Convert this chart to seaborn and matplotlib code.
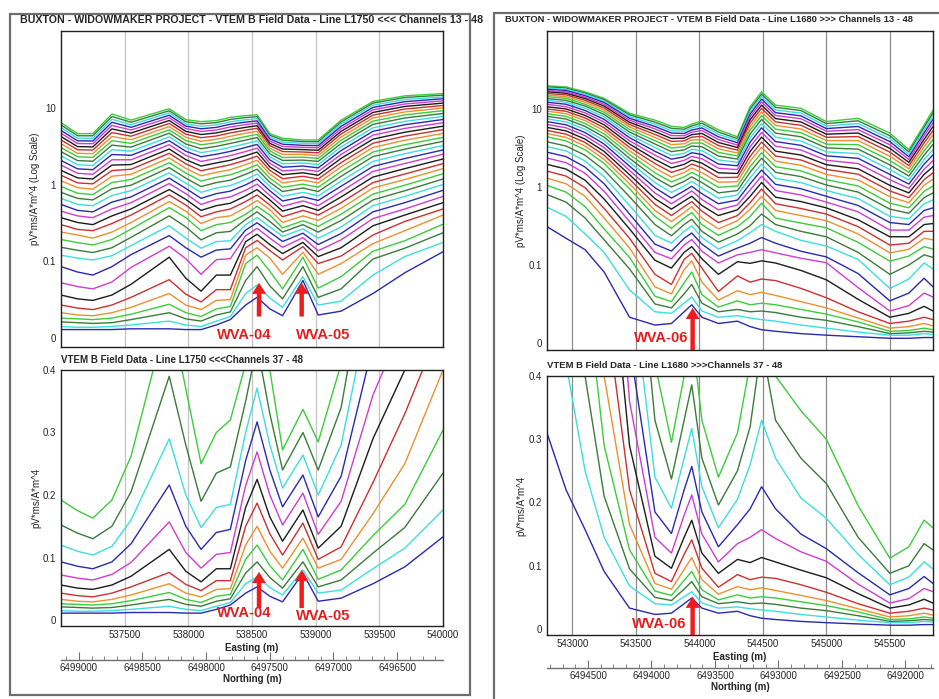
import numpy as np
import pandas as pd
import matplotlib
matplotlib.use("Agg")
import matplotlib.pyplot as plt
import seaborn as sns
from matplotlib.patches import Rectangle
from matplotlib.ticker import MultipleLocator, FixedLocator, FuncFormatter, NullFormatter

# VTEM B-field decays, channels 13 - 48 (pV*ms/A*m^4)
CHANNELS = list(range(13, 49))

# ---------------- Line L1750 (<<<) ----------------
L1750_EASTING = [537000, 537130, 537250, 537400, 537550, 537850, 537980, 538100, 538220, 538330,
                 538450, 538540, 538640, 538740, 538900, 539020, 539200, 539450, 539700, 540000]

l1750_537000 = [6.4, 5.97, 5.52, 5.07, 4.65, 4.22, 3.81, 3.40, 3.03, 2.68, 2.36, 2.06, 1.79, 1.53, 1.32, 1.12, 0.94, 0.79, 0.66, 0.55, 0.45, 0.37, 0.30, 0.24, 0.192, 0.152, 0.120, 0.093, 0.072, 0.056, 0.043, 0.033, 0.026, 0.021, 0.015, 0.011]
l1750_537130 = [4.6, 4.32, 4.01, 3.71, 3.42, 3.12, 2.84, 2.55, 2.30, 2.05, 1.81, 1.60, 1.40, 1.22, 1.05, 0.91, 0.77, 0.66, 0.55, 0.46, 0.39, 0.32, 0.26, 0.22, 0.175, 0.139, 0.110, 0.086, 0.067, 0.051, 0.039, 0.030, 0.025, 0.020, 0.014, 0.011]
l1750_537250 = [4.6, 4.31, 4.00, 3.69, 3.40, 3.09, 2.81, 2.52, 2.26, 2.01, 1.77, 1.56, 1.36, 1.18, 1.02, 0.87, 0.74, 0.63, 0.53, 0.44, 0.37, 0.30, 0.25, 0.20, 0.163, 0.130, 0.104, 0.082, 0.064, 0.049, 0.037, 0.029, 0.024, 0.019, 0.014, 0.011]
l1750_537400 = [8.3, 7.69, 7.08, 6.47, 5.89, 5.30, 4.75, 4.22, 3.72, 3.26, 2.84, 2.46, 2.10, 1.79, 1.52, 1.28, 1.06, 0.88, 0.72, 0.59, 0.48, 0.39, 0.31, 0.24, 0.192, 0.150, 0.118, 0.093, 0.073, 0.056, 0.043, 0.033, 0.026, 0.020, 0.015, 0.011]
l1750_537550 = [6.9, 6.47, 6.01, 5.56, 5.13, 4.68, 4.26, 3.83, 3.44, 3.07, 2.72, 2.40, 2.10, 1.82, 1.58, 1.36, 1.16, 0.98, 0.83, 0.69, 0.58, 0.48, 0.40, 0.32, 0.262, 0.205, 0.160, 0.122, 0.092, 0.070, 0.053, 0.040, 0.031, 0.024, 0.017, 0.012]
l1750_537850 = [9.7, 9.14, 8.57, 7.98, 7.41, 6.82, 6.25, 5.69, 5.16, 4.66, 4.17, 3.72, 3.30, 2.90, 2.55, 2.22, 1.92, 1.66, 1.42, 1.21, 1.03, 0.86, 0.73, 0.60, 0.50, 0.39, 0.29, 0.216, 0.157, 0.113, 0.076, 0.058, 0.044, 0.033, 0.022, 0.012]
l1750_537980 = [7.0, 6.59, 6.18, 5.77, 5.36, 4.93, 4.53, 4.12, 3.74, 3.37, 3.03, 2.71, 2.40, 2.11, 1.86, 1.62, 1.41, 1.21, 1.04, 0.89, 0.76, 0.64, 0.54, 0.45, 0.37, 0.28, 0.20, 0.15, 0.108, 0.078, 0.057, 0.043, 0.033, 0.025, 0.017, 0.011]
l1750_538100 = [6.6, 6.19, 5.75, 5.32, 4.91, 4.48, 4.07, 3.66, 3.29, 2.93, 2.60, 2.30, 2.00, 1.74, 1.51, 1.30, 1.11, 0.94, 0.79, 0.66, 0.55, 0.46, 0.38, 0.31, 0.25, 0.19, 0.148, 0.113, 0.083, 0.061, 0.047, 0.037, 0.028, 0.022, 0.015, 0.011]
l1750_538220 = [6.8, 6.40, 5.97, 5.55, 5.13, 4.70, 4.29, 3.88, 3.50, 3.14, 2.80, 2.48, 2.18, 1.91, 1.66, 1.44, 1.24, 1.06, 0.90, 0.76, 0.64, 0.53, 0.44, 0.37, 0.30, 0.235, 0.18, 0.14, 0.105, 0.082, 0.063, 0.049, 0.038, 0.030, 0.022, 0.017]
l1750_538330 = [7.5, 7.05, 6.56, 6.10, 5.62, 5.15, 4.70, 4.25, 3.83, 3.43, 3.05, 2.70, 2.38, 2.07, 1.81, 1.56, 1.34, 1.14, 0.97, 0.82, 0.69, 0.57, 0.48, 0.39, 0.32, 0.245, 0.185, 0.145, 0.108, 0.082, 0.063, 0.050, 0.041, 0.034, 0.028, 0.024]
l1750_538450 = [7.9, 7.45, 6.98, 6.50, 6.04, 5.56, 5.11, 4.65, 4.21, 3.79, 3.40, 3.04, 2.69, 2.37, 2.08, 1.82, 1.57, 1.36, 1.16, 0.99, 0.84, 0.71, 0.60, 0.50, 0.41, 0.35, 0.30, 0.255, 0.215, 0.18, 0.15, 0.12, 0.097, 0.075, 0.058, 0.043]
l1750_538540 = [8.1, 7.66, 7.21, 6.75, 6.31, 5.83, 5.40, 4.93, 4.51, 4.09, 3.70, 3.33, 2.98, 2.65, 2.34, 2.07, 1.81, 1.58, 1.37, 1.18, 1.01, 0.86, 0.73, 0.62, 0.52, 0.44, 0.371, 0.317, 0.269, 0.225, 0.187, 0.150, 0.120, 0.093, 0.069, 0.053]
l1750_538640 = [4.6, 4.39, 4.15, 3.92, 3.68, 3.44, 3.21, 2.96, 2.74, 2.51, 2.30, 2.09, 1.89, 1.70, 1.53, 1.37, 1.21, 1.07, 0.94, 0.83, 0.72, 0.63, 0.54, 0.47, 0.40, 0.33, 0.28, 0.24, 0.20, 0.165, 0.138, 0.110, 0.087, 0.068, 0.052, 0.038]
l1750_538740 = [4.0, 3.79, 3.57, 3.35, 3.13, 2.90, 2.69, 2.47, 2.25, 2.06, 1.86, 1.68, 1.50, 1.34, 1.19, 1.05, 0.92, 0.81, 0.70, 0.61, 0.52, 0.45, 0.38, 0.32, 0.272, 0.24, 0.211, 0.181, 0.152, 0.126, 0.104, 0.083, 0.064, 0.051, 0.040, 0.029]
l1750_538900 = [3.8, 3.62, 3.44, 3.24, 3.05, 2.85, 2.65, 2.46, 2.27, 2.08, 1.91, 1.74, 1.57, 1.42, 1.28, 1.14, 1.01, 0.90, 0.79, 0.69, 0.61, 0.53, 0.46, 0.39, 0.337, 0.30, 0.264, 0.232, 0.203, 0.176, 0.155, 0.131, 0.113, 0.093, 0.080, 0.075]
l1750_539020 = [3.8, 3.61, 3.41, 3.21, 3.01, 2.79, 2.59, 2.38, 2.19, 2.00, 1.82, 1.65, 1.48, 1.32, 1.18, 1.05, 0.92, 0.81, 0.71, 0.62, 0.53, 0.46, 0.40, 0.34, 0.285, 0.24, 0.20, 0.165, 0.137, 0.115, 0.097, 0.083, 0.065, 0.053, 0.043, 0.030]
l1750_539200 = [6.9, 6.52, 6.14, 5.73, 5.33, 4.93, 4.55, 4.15, 3.78, 3.43, 3.09, 2.77, 2.47, 2.19, 1.93, 1.70, 1.48, 1.28, 1.11, 0.95, 0.81, 0.69, 0.58, 0.49, 0.41, 0.34, 0.28, 0.23, 0.19, 0.15, 0.117, 0.097, 0.080, 0.064, 0.048, 0.035]
l1750_539450 = [12.1, 11.5, 10.8, 10.1, 9.40, 8.69, 8.02, 7.35, 6.70, 6.07, 5.48, 4.93, 4.40, 3.90, 3.45, 3.04, 2.65, 2.31, 2.00, 1.72, 1.48, 1.25, 1.06, 0.90, 0.75, 0.63, 0.53, 0.44, 0.36, 0.29, 0.22, 0.17, 0.135, 0.107, 0.082, 0.058]
l1750_539700 = [14.3, 13.6, 12.8, 12.0, 11.2, 10.4, 9.62, 8.81, 8.07, 7.35, 6.65, 6.01, 5.38, 4.80, 4.27, 3.77, 3.30, 2.89, 2.52, 2.18, 1.88, 1.61, 1.37, 1.16, 0.98, 0.83, 0.70, 0.58, 0.48, 0.40, 0.33, 0.25, 0.185, 0.148, 0.115, 0.085]
l1750_540000 = [15.3, 14.6, 13.8, 13.1, 12.3, 11.5, 10.7, 9.93, 9.16, 8.43, 7.71, 7.03, 6.38, 5.75, 5.18, 4.63, 4.11, 3.65, 3.22, 2.82, 2.48, 2.15, 1.87, 1.61, 1.38, 1.18, 1.00, 0.84, 0.70, 0.58, 0.48, 0.40, 0.304, 0.235, 0.176, 0.133]

L1750_DECAYS = [l1750_537000, l1750_537130, l1750_537250, l1750_537400, l1750_537550, l1750_537850,
                l1750_537980, l1750_538100, l1750_538220, l1750_538330, l1750_538450, l1750_538540,
                l1750_538640, l1750_538740, l1750_538900, l1750_539020, l1750_539200, l1750_539450,
                l1750_539700, l1750_540000]

# ---------------- Line L1680 (>>>) ----------------
L1680_EASTING = [542800, 542950, 543100, 543250, 543450, 543650, 543780, 543880, 543940, 544020, 544150,
                 544300, 544400, 544490, 544600, 544800, 545000, 545250, 545500, 545650, 545770, 545840]

l1680_542800 = [19.8, 19.2, 18.6, 17.9, 17.3, 16.6, 15.8, 15.1, 14.4, 13.6, 12.9, 12.2, 11.5, 10.7, 10.0, 9.38, 8.71, 8.07, 7.46, 6.89, 6.34, 5.81, 5.31, 4.84, 4.4, 3.8, 3.3, 2.8, 2.35, 1.95, 1.6, 1.3, 1.05, 0.80, 0.55, 0.31]
l1680_542950 = [19.2, 18.6, 17.9, 17.3, 16.6, 15.9, 15.2, 14.4, 13.7, 12.9, 12.2, 11.5, 10.7, 10.0, 9.35, 8.69, 8.04, 7.43, 6.84, 6.27, 5.74, 5.24, 4.76, 4.32, 3.9, 3.35, 2.9, 2.45, 2.05, 1.7, 1.38, 1.1, 0.86, 0.64, 0.42, 0.22]
l1680_543100 = [16.6, 16.0, 15.5, 14.8, 14.2, 13.6, 12.9, 12.2, 11.5, 10.9, 10.2, 9.55, 8.91, 8.28, 7.67, 7.10, 6.52, 5.98, 5.48, 4.99, 4.55, 4.11, 3.72, 3.35, 3.0, 2.55, 2.15, 1.8, 1.5, 1.22, 0.98, 0.76, 0.56, 0.40, 0.25, 0.157]
l1680_543250 = [13.7, 13.2, 12.6, 12.1, 11.5, 10.9, 10.3, 9.70, 9.10, 8.51, 7.93, 7.36, 6.81, 6.27, 5.75, 5.27, 4.80, 4.36, 3.94, 3.55, 3.19, 2.86, 2.55, 2.26, 2.0, 1.65, 1.35, 1.1, 0.88, 0.70, 0.53, 0.40, 0.29, 0.21, 0.145, 0.091]
l1680_543450 = [8.8, 8.41, 8.00, 7.59, 7.18, 6.75, 6.32, 5.89, 5.47, 5.06, 4.67, 4.29, 3.91, 3.56, 3.22, 2.91, 2.61, 2.33, 2.08, 1.85, 1.63, 1.44, 1.26, 1.10, 0.95, 0.75, 0.58, 0.45, 0.36, 0.29, 0.22, 0.165, 0.125, 0.095, 0.068, 0.033]
l1680_543650 = [7.2, 6.79, 6.38, 5.97, 5.56, 5.13, 4.72, 4.32, 3.93, 3.56, 3.20, 2.87, 2.56, 2.26, 2.00, 1.75, 1.52, 1.32, 1.14, 0.98, 0.84, 0.71, 0.60, 0.50, 0.42, 0.33, 0.24, 0.185, 0.145, 0.115, 0.088, 0.072, 0.060, 0.050, 0.040, 0.023]
l1680_543780 = [6.0, 5.65, 5.28, 4.92, 4.56, 4.19, 3.84, 3.49, 3.16, 2.84, 2.54, 2.27, 2.00, 1.76, 1.54, 1.34, 1.16, 1.00, 0.85, 0.72, 0.61, 0.52, 0.43, 0.36, 0.295, 0.237, 0.191, 0.151, 0.120, 0.096, 0.075, 0.063, 0.053, 0.045, 0.038, 0.025]
l1680_543880 = [5.8, 5.50, 5.18, 4.85, 4.54, 4.22, 3.90, 3.58, 3.28, 2.99, 2.70, 2.44, 2.19, 1.95, 1.73, 1.53, 1.35, 1.18, 1.03, 0.89, 0.77, 0.66, 0.56, 0.47, 0.40, 0.33, 0.27, 0.22, 0.18, 0.145, 0.118, 0.094, 0.077, 0.063, 0.051, 0.040]
l1680_543940 = [6.4, 6.07, 5.73, 5.38, 5.05, 4.69, 4.35, 4.00, 3.66, 3.35, 3.04, 2.75, 2.47, 2.21, 1.97, 1.75, 1.54, 1.35, 1.18, 1.02, 0.89, 0.76, 0.65, 0.56, 0.47, 0.386, 0.317, 0.257, 0.212, 0.172, 0.141, 0.113, 0.091, 0.075, 0.059, 0.049]
l1680_544020 = [7.0, 6.58, 6.15, 5.71, 5.30, 4.86, 4.46, 4.04, 3.66, 3.28, 2.93, 2.61, 2.30, 2.02, 1.77, 1.53, 1.32, 1.14, 0.97, 0.82, 0.69, 0.58, 0.49, 0.40, 0.33, 0.27, 0.225, 0.185, 0.150, 0.120, 0.096, 0.078, 0.062, 0.051, 0.041, 0.033]
l1680_544150 = [5.4, 5.07, 4.73, 4.40, 4.06, 3.72, 3.40, 3.08, 2.78, 2.49, 2.22, 1.97, 1.74, 1.52, 1.32, 1.15, 0.99, 0.84, 0.72, 0.61, 0.51, 0.43, 0.35, 0.29, 0.24, 0.196, 0.160, 0.130, 0.106, 0.088, 0.066, 0.055, 0.046, 0.040, 0.033, 0.025]
l1680_544300 = [4.4, 4.17, 3.94, 3.69, 3.45, 3.21, 2.97, 2.73, 2.50, 2.28, 2.07, 1.87, 1.67, 1.49, 1.33, 1.17, 1.03, 0.90, 0.79, 0.68, 0.59, 0.51, 0.43, 0.37, 0.31, 0.25, 0.205, 0.165, 0.135, 0.110, 0.086, 0.067, 0.054, 0.043, 0.035, 0.028]
l1680_544400 = [10.7, 10.0, 9.33, 8.63, 7.96, 7.28, 6.62, 5.97, 5.37, 4.79, 4.25, 3.76, 3.29, 2.86, 2.48, 2.14, 1.82, 1.55, 1.31, 1.10, 0.92, 0.76, 0.63, 0.52, 0.42, 0.32, 0.26, 0.19, 0.145, 0.105, 0.078, 0.062, 0.049, 0.040, 0.032, 0.021]
l1680_544490 = [16.6, 15.5, 14.5, 13.4, 12.3, 11.2, 10.2, 9.18, 8.24, 7.35, 6.50, 5.74, 5.01, 4.36, 3.77, 3.24, 2.75, 2.34, 1.97, 1.65, 1.38, 1.14, 0.94, 0.76, 0.62, 0.45, 0.33, 0.225, 0.157, 0.113, 0.082, 0.065, 0.051, 0.041, 0.030, 0.017]
l1680_544600 = [11.2, 10.5, 9.73, 8.97, 8.26, 7.53, 6.84, 6.15, 5.51, 4.90, 4.34, 3.82, 3.33, 2.88, 2.49, 2.14, 1.82, 1.54, 1.29, 1.08, 0.90, 0.74, 0.61, 0.50, 0.40, 0.33, 0.27, 0.19, 0.143, 0.106, 0.080, 0.061, 0.049, 0.039, 0.028, 0.015]
l1680_544800 = [10.2, 9.55, 8.85, 8.17, 7.50, 6.82, 6.18, 5.55, 4.97, 4.41, 3.89, 3.42, 2.98, 2.57, 2.22, 1.90, 1.61, 1.36, 1.14, 0.95, 0.79, 0.65, 0.53, 0.43, 0.345, 0.27, 0.207, 0.15, 0.122, 0.093, 0.070, 0.053, 0.043, 0.033, 0.023, 0.012]
l1680_545000 = [6.9, 6.49, 6.05, 5.61, 5.19, 4.75, 4.34, 3.93, 3.54, 3.17, 2.82, 2.51, 2.20, 1.93, 1.68, 1.45, 1.24, 1.06, 0.90, 0.76, 0.64, 0.54, 0.45, 0.37, 0.30, 0.23, 0.175, 0.127, 0.107, 0.081, 0.058, 0.045, 0.037, 0.029, 0.019, 0.010]
l1680_545250 = [7.6, 7.06, 6.52, 5.97, 5.44, 4.92, 4.43, 3.94, 3.48, 3.06, 2.68, 2.33, 2.00, 1.71, 1.46, 1.23, 1.03, 0.86, 0.71, 0.58, 0.48, 0.38, 0.31, 0.25, 0.195, 0.145, 0.118, 0.089, 0.071, 0.056, 0.040, 0.032, 0.027, 0.021, 0.014, 0.008]
l1680_545500 = [4.9, 4.54, 4.18, 3.82, 3.48, 3.13, 2.80, 2.48, 2.19, 1.92, 1.67, 1.45, 1.24, 1.05, 0.89, 0.75, 0.62, 0.52, 0.42, 0.35, 0.28, 0.23, 0.18, 0.143, 0.112, 0.088, 0.070, 0.054, 0.041, 0.033, 0.025, 0.019, 0.015, 0.012, 0.010, 0.006]
l1680_545650 = [3.0, 2.82, 2.63, 2.44, 2.25, 2.07, 1.88, 1.71, 1.54, 1.38, 1.23, 1.09, 0.96, 0.84, 0.73, 0.63, 0.54, 0.46, 0.39, 0.33, 0.28, 0.23, 0.19, 0.159, 0.13, 0.10, 0.082, 0.064, 0.048, 0.038, 0.028, 0.021, 0.016, 0.013, 0.010, 0.006]
l1680_545770 = [6.25, 5.82, 5.37, 4.93, 4.51, 4.07, 3.67, 3.27, 2.91, 2.56, 2.24, 1.96, 1.69, 1.45, 1.24, 1.05, 0.88, 0.73, 0.61, 0.50, 0.41, 0.33, 0.27, 0.22, 0.172, 0.135, 0.106, 0.083, 0.064, 0.047, 0.033, 0.025, 0.019, 0.015, 0.012, 0.007]
l1680_545840 = [9.7, 8.93, 8.17, 7.40, 6.68, 5.96, 5.28, 4.63, 4.05, 3.51, 3.01, 2.58, 2.18, 1.82, 1.52, 1.26, 1.03, 0.84, 0.68, 0.54, 0.43, 0.34, 0.27, 0.21, 0.16, 0.125, 0.095, 0.072, 0.059, 0.041, 0.030, 0.022, 0.017, 0.014, 0.011, 0.007]

L1680_DECAYS = [l1680_542800, l1680_542950, l1680_543100, l1680_543250, l1680_543450, l1680_543650,
                l1680_543780, l1680_543880, l1680_543940, l1680_544020, l1680_544150, l1680_544300,
                l1680_544400, l1680_544490, l1680_544600, l1680_544800, l1680_545000, l1680_545250,
                l1680_545500, l1680_545650, l1680_545770, l1680_545840]

# northing runs the other way along each line (northing = offset - easting)
L1750_NORTH_OFFSET = 7036140
L1680_NORTH_OFFSET = 7037623

L1750_TICKS = [537500, 538000, 538500, 539000, 539500, 540000]
L1680_TICKS = [543000, 543500, 544000, 544500, 545000, 545500]
L1750_NORTH_TICKS = [6499000, 6498500, 6498000, 6497500, 6497000, 6496500]
L1680_NORTH_TICKS = [6494500, 6494000, 6493500, 6493000, 6492500, 6492000]

# colour cycle of the profiles, starting at channel 37
CH_COLOURS = ['#3ccc3c', '#3a7c3a', '#3cdede', '#2a2ab0', '#d03cd0', '#1c1c1c', '#cc3030', '#ec9030']
palette = {ch: CH_COLOURS[(ch - 37) % 8] for ch in CHANNELS}


def to_long(eastings, decays):
    rows = []
    for e, dec in zip(eastings, decays):
        for ch, v in zip(CHANNELS, dec):
            rows.append((e, ch, v))
    return pd.DataFrame(rows, columns=['easting', 'channel', 'value'])


df1750 = to_long(L1750_EASTING, L1750_DECAYS)
df1680 = to_long(L1680_EASTING, L1680_DECAYS)

sns.set_style('white')
plt.rcParams['font.family'] = ['Liberation Sans', 'DejaVu Sans']
plt.rcParams['axes.linewidth'] = 1.0

W, H = 939, 699
fig = plt.figure(figsize=(W / 100, H / 100), dpi=100)


def box(l, t, r, b):
    return [l / W, 1 - b / H, (r - l) / W, (b - t) / H]


# frames round the two sheets
fig.patches.append(Rectangle((10 / W, 1 - 695 / H), 460 / W, 681 / H, transform=fig.transFigure,
                             fill=False, edgecolor='#6e6e6e', lw=1.6, zorder=1))
fig.text(20 / W, 1 - 20 / H, 'BUXTON - WIDOWMAKER PROJECT - VTEM B Field Data - Line L1750 <<< Channels 13 - 48',
         fontsize=7.7, fontweight='bold', va='center', ha='left', zorder=2)
fig.patches.append(Rectangle((494 / W, -0.02), 0.5, 1 - 13 / H + 0.02, transform=fig.transFigure,
                             facecolor='white', edgecolor='#6e6e6e', lw=1.6, zorder=3))
fig.text(505 / W, 1 - 20 / H, 'BUXTON - WIDOWMAKER PROJECT - VTEM B Field Data - Line L1680 >>> Channels 13 - 48',
         fontsize=6.75, fontweight='bold', va='center', ha='left', zorder=4)

ax_tl = fig.add_axes(box(61, 31, 443, 347))
ax_bl = fig.add_axes(box(61, 370, 443, 626))
ax_tr = fig.add_axes(box(547, 31, 933, 350), zorder=5)
ax_br = fig.add_axes(box(547, 376, 933, 635), zorder=5)

fig.text(61 / W, 1 - 360 / H, 'VTEM B Field Data - Line L1750 <<<Channels 37 - 48',
         fontsize=7, fontweight='bold', va='center', ha='left')
fig.text(547 / W, 1 - 365 / H, 'VTEM B Field Data - Line L1680 >>>Channels 37 - 48',
         fontsize=6.8, fontweight='bold', va='center', ha='left', zorder=6)


def draw_lines(ax, df, channels):
    sub = df[df['channel'].isin(channels)]
    sns.lineplot(data=sub, x='easting', y='value', hue='channel', palette=palette,
                 estimator=None, errorbar=None, legend=False, linewidth=1.0, ax=ax)
    for ln in ax.lines:
        ln.set_solid_joinstyle('round')
    ax.set_xlabel('')
    ax.set_ylabel('')


def style_x(ax, xlim, ticks, grid_colour, labels):
    ax.set_xlim(*xlim)
    ax.xaxis.set_major_locator(FixedLocator(ticks))
    ax.xaxis.set_minor_locator(MultipleLocator(100))
    ax.grid(True, axis='x', which='major', color=grid_colour, lw=0.9)
    ax.set_axisbelow(True)
    ax.tick_params(axis='x', which='major', direction='in', length=0, labelsize=7, pad=3,
                   labelbottom=labels)
    ax.tick_params(axis='x', which='minor', direction='in', length=3, width=0.6)
    ax.xaxis.set_major_formatter(FuncFormatter(lambda v, _: f'{v:.0f}'))
    for s in ax.spines.values():
        s.set_color('#202020')


def style_log(ax, ylim, pad):
    ax.set_yscale('symlog', linthresh=0.1, linscale=0.9)
    ax.set_ylim(*ylim)
    ax.yaxis.set_major_locator(FixedLocator([0, 0.1, 1, 10]))
    ax.yaxis.set_major_formatter(FuncFormatter(lambda v, _: {0: '0', 0.1: '0.1', 1: '1', 10: '10'}.get(v, '')))
    ax.yaxis.set_minor_locator(FixedLocator([0.02, 0.04, 0.06, 0.08, 0.2, 0.4, 0.6, 0.8,
                                             2, 4, 6, 8, 20, 40, 60, 80]))
    ax.yaxis.set_minor_formatter(NullFormatter())
    ax.tick_params(axis='y', which='major', direction='inout', length=6, width=0.8, labelsize=7, pad=0.5)
    ax.tick_params(axis='y', which='minor', direction='in', length=3, width=0.6)
    ax.set_ylabel('pV*ms/A*m^4 (Log Scale)', fontsize=7, labelpad=pad)


def style_lin(ax, ylim, pad):
    ax.set_ylim(*ylim)
    ax.yaxis.set_major_locator(MultipleLocator(0.1))
    ax.yaxis.set_minor_locator(MultipleLocator(0.025))
    ax.yaxis.set_major_formatter(FuncFormatter(lambda v, _: '0' if abs(v) < 1e-9 else f'{v:.1f}'))
    ax.tick_params(axis='y', which='major', direction='inout', length=6, width=0.8, labelsize=7, pad=0.5)
    ax.tick_params(axis='y', which='minor', direction='in', length=3, width=0.6)
    ax.set_ylabel('pV*ms/A*m^4', fontsize=7, labelpad=pad)


def northing_axis(ax, offset, loc, ticks):
    sec = ax.secondary_xaxis(loc, functions=(lambda e: offset - e, lambda n: offset - n))
    sec.xaxis.set_major_locator(FixedLocator(ticks))
    sec.xaxis.set_minor_locator(MultipleLocator(100))
    sec.xaxis.set_major_formatter(FuncFormatter(lambda v, _: f'{v:.0f}'))
    sec.tick_params(which='major', direction='in', length=6, width=0.8, color='#707070',
                    labelsize=7, pad=2)
    sec.tick_params(which='minor', direction='in', length=3, width=0.6, color='#707070')
    sec.spines['bottom'].set_color('#707070')
    sec.set_xlabel('Northing (m)', fontsize=7, fontweight='bold', labelpad=1)


def arrow(ax, x, tip, base, label, lx, ly):
    ax.annotate('', xy=(x, tip), xytext=(x, base),
                arrowprops=dict(facecolor='#ee1c1c', edgecolor='none', width=3.2,
                                headwidth=10, headlength=8, shrink=0), annotation_clip=False)
    ax.text(lx, ly, label, color='#e31e1e', fontsize=10.5, fontweight='bold',
            ha='center', va='center', clip_on=False)


# --- L1750
draw_lines(ax_tl, df1750, CHANNELS)
style_x(ax_tl, (537000, 540000), L1750_TICKS, '#c4c4c4', False)
style_log(ax_tl, (-0.0117, 100), 2)
arrow(ax_tl, 538555, 0.072, 0.028, 'WVA-04', 538437, 0.004)
arrow(ax_tl, 538890, 0.072, 0.028, 'WVA-05', 539060, 0.004)

draw_lines(ax_bl, df1750, CHANNELS[24:])
style_x(ax_bl, (537000, 540000), L1750_TICKS, '#c4c4c4', True)
style_lin(ax_bl, (-0.0096, 0.4), 1)
ax_bl.set_xlabel('Easting (m)', fontsize=7, fontweight='bold', labelpad=2)
arrow(ax_bl, 538555, 0.077, 0.019, 'WVA-04', 538437, 0.011)
arrow(ax_bl, 538890, 0.080, 0.019, 'WVA-05', 539060, 0.006)
northing_axis(ax_bl, L1750_NORTH_OFFSET, -34 / 256, L1750_NORTH_TICKS)

# --- L1680
draw_lines(ax_tr, df1680, CHANNELS)
style_x(ax_tr, (542800, 545840), L1680_TICKS, '#8c8c8c', False)
style_log(ax_tr, (-0.009, 100), 2)
arrow(ax_tr, 543947, 0.045, -0.009, 'WVA-06', 543698, 0.0065)

draw_lines(ax_br, df1680, CHANNELS[24:])
style_x(ax_br, (542800, 545840), L1680_TICKS, '#8c8c8c', True)
style_lin(ax_br, (-0.0095, 0.4), 2)
ax_br.set_xlabel('Easting (m)', fontsize=7, fontweight='bold', labelpad=2)
arrow(ax_br, 543947, 0.051, -0.0095, 'WVA-06', 543682, 0.008)
northing_axis(ax_br, L1680_NORTH_OFFSET, -33 / 259, L1680_NORTH_TICKS)

fig.savefig('out.png', dpi=100, facecolor='white')
